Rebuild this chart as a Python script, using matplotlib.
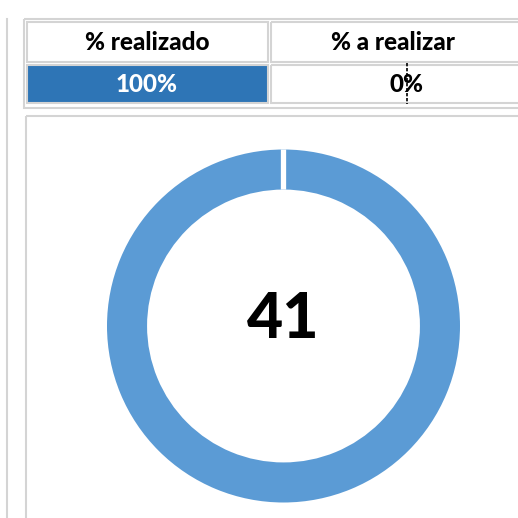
import matplotlib.pyplot as plt
from matplotlib.patches import Rectangle

# table values
headers = ["% realizado", "% a realizar"]
cell_values = ["100%", "0%"]

# donut values
labels = ["realizado", "a realizar"]
percent = [100, 0]
center_number = "41"

grid_color = "#d4d4d4"
cell_blue = "#2e75b6"
donut_blue = "#5b9bd5"

plt.rcParams['font.family'] = ['Lato', 'DejaVu Sans']

fig = plt.figure(figsize=(5.18, 5.18), dpi=100)

# background axis in pixel coordinates for the sheet grid
bg = fig.add_axes([0, 0, 1, 1])
bg.set_xlim(0, 518)
bg.set_ylim(518, 0)
bg.axis("off")

# left sheet border
bg.plot([7, 7], [19, 518], color=grid_color, lw=1.5)

# table frame
bg.add_patch(Rectangle((24, 19), 520, 89, fill=False, ec=grid_color, lw=1.5))
bg.add_patch(Rectangle((27, 22), 241, 40, fill=False, ec=grid_color, lw=1.5))
bg.add_patch(Rectangle((271, 22), 260, 40, fill=False, ec=grid_color, lw=1.5))
bg.add_patch(Rectangle((27, 65), 241, 38, fc=cell_blue, ec=grid_color, lw=1.5))
bg.add_patch(Rectangle((271, 65), 260, 38, fill=False, ec=grid_color, lw=1.5))

col_x = [147, 393]
for x, h in zip(col_x, headers):
    bg.text(x, 43, h, ha="center", va="center", fontsize=17.5, fontweight="black", color="black")
bg.text(col_x[0], 84, cell_values[0], ha="center", va="center", fontsize=17.5,
        fontweight="black", color="white")
bg.text(col_x[1] + 14, 84, cell_values[1], ha="center", va="center", fontsize=17.5,
        fontweight="black", color="black")
# text cursor in the selected cell
bg.plot([407, 407], [63, 104], color="black", lw=1.2, ls=(0, (2, 1)))

# chart area frame
bg.add_patch(Rectangle((26, 116), 520, 420, fill=False, ec=grid_color, lw=1.5))

# donut chart
ax = fig.add_axes([107 / 518, 15.5 / 518, 353 / 518, 353 / 518])
wedges, _ = ax.pie(percent, colors=[donut_blue, "white"], startangle=90, counterclock=False,
                   radius=1, wedgeprops=dict(width=0.227))
wedges[1].set_edgecolor("white")
wedges[1].set_linewidth(3.8)
ax.set_xlim(-1, 1)
ax.set_ylim(-1, 1)
ax.text(0, 0.035, center_number, ha="center", va="center", fontsize=45, fontweight="black")

plt.savefig("out.png", dpi=100)
